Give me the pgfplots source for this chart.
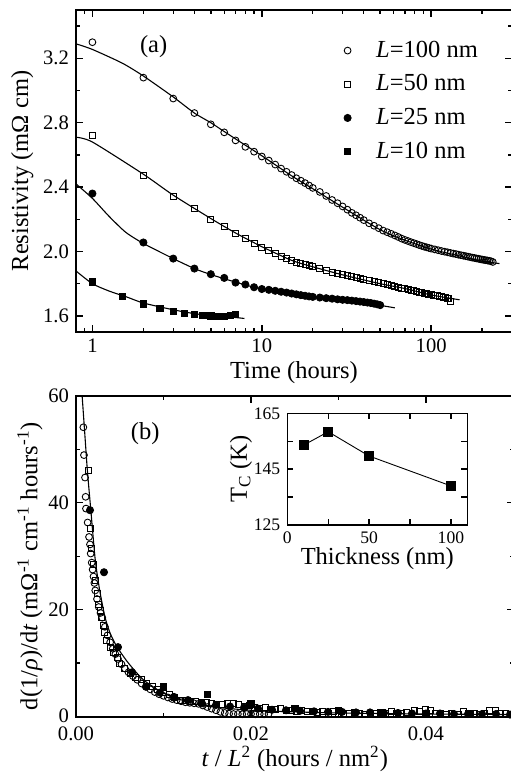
\documentclass[border=0pt]{standalone}
\usepackage{fontspec}
\setmainfont{Liberation Serif}
\usepackage{pgfplots}
\pgfplotsset{compat=1.18}

\pgfplotsset{
  panel/.style={
    scale only axis,
    anchor=north west,
    axis line style={line width=0.9pt},
    tick style={line width=0.7pt, black},
    major tick length=3.5pt,
    minor tick length=2pt,
    tick label style={font=\fontsize{10.3}{12}\selectfont},
    label style={font=\fontsize{12.25}{14}\selectfont},
    scaled ticks=false,
    /pgf/number format/assume math mode=true,
  },
  fit/.style={black, line width=0.55pt, no marks, smooth, tension=0.4},
  oc/.style={only marks, mark=o, mark size=1.7pt, mark options={line width=0.45pt, black}},
  os/.style={only marks, mark=square, mark size=1.5pt, mark options={line width=0.45pt, black}},
  fc/.style={only marks, mark=*, mark size=1.8pt, black},
  fs/.style={only marks, mark=square*, mark size=1.6pt, black},
}

\begin{document}
\begin{tikzpicture}
\useasboundingbox (0,0) rectangle (255pt,-388pt);

% ---- (a) resistivity vs time
\begin{axis}[panel,
  at={(38pt,-5pt)}, width=218pt, height=161pt,
  xmode=log, xmin=0.8, xmax=300, ymin=1.5, ymax=3.5,
  xtick={1,10,100}, xticklabels={1,10,100},
  minor xtick={0.8,0.9,2,3,4,5,6,7,8,9,20,30,40,50,60,70,80,90,200,300},
  ytick={1.6,2.0,2.4,2.8,3.2}, yticklabels={1.6,2.0,2.4,2.8,3.2},
  minor ytick={1.8,2.2,2.6,3.0,3.4},
  xlabel={Time (hours)}, ylabel={Resistivity (mΩ cm)},
  xlabel style={yshift=2.5pt}, ylabel style={yshift=-2pt},
  legend style={draw=none, fill=none, at={(0.6,0.93)}, anchor=north west,
    font=\fontsize{12.25}{14}\selectfont, row sep=3.2pt, column sep=10.5pt},
  legend cell align=left,
]
\addplot[oc] coordinates {
(1,3.30)(2,3.08)(3,2.95)(4,2.86)(5,2.79)(6,2.74)(7,2.69)(8,2.65)(9,2.62)(10,2.59)
(11,2.565)(12,2.54)(13,2.515)(14,2.495)(15,2.475)(16,2.455)(17,2.44)(18,2.425)(19,2.41)(20,2.395)
(22,2.37)(24,2.345)(26,2.32)(28,2.30)(30,2.28)(32,2.26)(34,2.24)(36,2.225)(38,2.21)(40,2.195)
(43,2.175)(46,2.16)(49,2.145)(52,2.13)(55,2.12)(58,2.11)(61,2.10)(64,2.09)(67,2.08)(70,2.072)
(73,2.065)(76,2.058)(79,2.052)(82,2.046)(85,2.04)(88,2.035)(91,2.03)(94,2.026)(97,2.022)(100,2.018)
(105,2.013)(110,2.008)(115,2.003)(120,1.999)(125,1.995)(130,1.991)(135,1.987)(140,1.984)(145,1.98)
(150,1.977)(155,1.974)(160,1.971)(165,1.968)(170,1.965)(175,1.962)(180,1.96)(185,1.957)(190,1.955)
(195,1.952)(200,1.95)(205,1.948)(210,1.946)(215,1.944)(220,1.942)(225,1.94)(231,1.935)};
\addlegendentry{\textit{L}=100 nm}
\addplot[os] coordinates {
(1,2.72)(2,2.474)(3,2.345)(4,2.267)(5,2.20)(6,2.153)(7,2.112)(8,2.078)(9,2.053)(10,2.028)
(11,2.005)(12,1.988)(13,1.972)(14,1.958)(15,1.946)(16,1.935)(17,1.926)(18,1.918)(19,1.911)(20,1.905)
(22,1.893)(24,1.882)(26,1.872)(28,1.863)(30,1.856)(32,1.849)(34,1.842)(36,1.836)(38,1.83)(40,1.825)
(43,1.818)(46,1.811)(49,1.805)(52,1.799)(55,1.793)(58,1.788)(61,1.783)(64,1.778)(67,1.773)(70,1.768)
(73,1.764)(76,1.76)(79,1.756)(82,1.752)(85,1.748)(88,1.745)(91,1.742)(94,1.739)(97,1.736)(100,1.733)
(103,1.73)(106,1.727)(109,1.724)(112,1.721)(115,1.718)(118,1.715)(121,1.712)(124,1.709)(127,1.706)(130,1.69)};
\addlegendentry{\textit{L}=50 nm}
\addplot[fc] coordinates {
(1,2.36)(2,2.056)(3,1.956)(4,1.894)(5,1.859)(6,1.836)(7,1.807)(8,1.795)(9,1.778)(10,1.767)
(11,1.762)(12,1.756)(13,1.75)(14,1.745)(15,1.739)(16,1.734)(17,1.729)(18,1.725)(19,1.721)(20,1.718)
(22,1.714)(24,1.71)(26,1.707)(28,1.703)(30,1.70)(32,1.698)(34,1.695)(36,1.692)(38,1.689)(40,1.686)
(42,1.683)(44,1.68)(46,1.676)(48,1.672)(50,1.667)};
\addlegendentry{\textit{L}=25 nm}
\addplot[fs] coordinates {
(1,1.81)(1.5,1.722)(2,1.674)(2.5,1.645)(3,1.628)(3.5,1.614)(4,1.608)(4.5,1.604)(5,1.60)
(5.5,1.598)(6,1.598)(6.5,1.602)(7,1.61)};
\addlegendentry{\textit{L}=10 nm}
% fits
\addplot[fit, forget plot] coordinates {
(0.8,3.29)(1,3.255)(1.5,3.17)(2,3.09)(3,2.96)(4,2.86)(5,2.80)(6,2.745)(8,2.66)(10,2.595)
(15,2.47)(20,2.39)(30,2.275)(50,2.135)(70,2.07)(100,2.015)(150,1.97)(200,1.94)(253,1.925)};
\addplot[fit, forget plot] coordinates {
(0.8,2.71)(1,2.68)(2,2.48)(3,2.35)(5,2.205)(7,2.115)(10,2.03)(15,1.945)(20,1.905)
(30,1.855)(50,1.80)(70,1.77)(100,1.73)(147,1.70)};
\addplot[fit, forget plot] coordinates {
(0.8,2.42)(1,2.33)(1.25,2.22)(1.57,2.12)(2,2.05)(3,1.956)(4,1.894)(5,1.857)(7,1.81)
(10,1.767)(20,1.715)(30,1.695)(50,1.665)(61,1.65)};
\addplot[fit, forget plot] coordinates {
(0.8,1.879)(1,1.80)(1.25,1.755)(1.6,1.717)(2,1.68)(3,1.638)(4,1.614)(5,1.603)(6,1.596)(7,1.59)(7.9,1.584)};
\node[font=\fontsize{12.25}{14}\selectfont] at (axis cs:2.3,3.27) {(a)};
\end{axis}

% ---- (b) derivative vs scaled time
\begin{axis}[panel,
  at={(38pt,-197.85pt)}, width=218.75pt, height=160.5pt,
  xmin=0, xmax=0.05, ymin=0, ymax=60,
  xtick={0,0.02,0.04}, xticklabels={0.00,0.02,0.04},
  minor xtick={0.01,0.03,0.05},
  ytick={0,20,40,60}, yticklabels={\raisebox{1.5pt}{0},20,40,60},
  minor ytick={10,30,50},
  xticklabel style={yshift=-1.5pt},
  xlabel={\textit{t} / \textit{L}\textsuperscript{2} (hours / nm\textsuperscript{2})},
  ylabel={d(1/\textit{ρ})/d\textit{t} (mΩ\textsuperscript{-1} cm\textsuperscript{-1} hours\textsuperscript{-1})},
  xlabel style={yshift=4pt}, ylabel style={yshift=-4pt, xshift=-5pt},
  clip=true,
]
\addplot[oc] coordinates {
(0.00084,54.1)(0.00091,48.9)(0.00103,44.7)(0.0011,41.1)(0.00114,38.9)(0.00133,36.3)(0.00149,33.6)
(0.0016,32.2)(0.00168,30.5)(0.0018,28.8)(0.0019,27.5)(0.002,26.2)(0.0021,25.0)(0.0022,23.6)
(0.0024,22.0)(0.0026,20.5)(0.0028,19.4)(0.003,18.5)(0.0033,16.8)(0.0036,15.2)(0.0039,13.9)
(0.0042,12.7)(0.0045,11.7)(0.0048,10.8)(0.0052,9.8)(0.0056,9.0)(0.006,8.3)(0.0065,7.6)(0.007,6.9)
(0.0075,6.2)(0.008,5.6)(0.0085,5.1)(0.009,4.6)(0.0095,4.2)(0.01,3.9)(0.0105,3.6)(0.011,3.3)
(0.0115,3.1)(0.012,2.9)(0.0125,2.7)(0.013,2.6)(0.0135,2.5)(0.014,2.4)(0.0145,2.1)(0.015,1.8)
(0.0155,1.5)(0.016,1.2)(0.0165,0.9)(0.017,0.7)(0.0175,0.55)(0.018,0.5)(0.0185,0.5)(0.019,0.45)
(0.0195,0.5)(0.02,0.5)(0.0205,0.45)(0.021,0.5)(0.0215,0.45)(0.022,0.5)};
\addplot[os] coordinates {
(0.0014,46.1)(0.0016,35.2)(0.0018,31.5)(0.002,28.4)(0.0022,25.5)(0.0024,23)(0.0026,21)(0.00274,19.9)
(0.0029,18.5)(0.0031,17.1)(0.0033,15.7)(0.0035,14.3)(0.0039,13.0)(0.0043,12.1)(0.0047,11)(0.005,10)
(0.0055,9)(0.0062,8.1)(0.0068,7.4)(0.0075,6.9)(0.0081,6.2)(0.0087,5.6)(0.0093,5.0)(0.0100,4.6)
(0.0107,4.1)(0.0113,3.6)(0.0119,3.1)(0.0125,3.0)(0.0131,2.9)(0.0137,2.8)(0.0143,2.6)(0.0149,2.7)
(0.0155,2.4)(0.0161,2.3)(0.0167,2.2)(0.0173,2.4)(0.018,2.5)(0.0186,2.3)(0.0192,2.0)(0.0198,2.1)
(0.0204,1.8)(0.021,1.6)(0.0216,1.7)(0.0222,1.4)(0.0228,1.3)(0.0234,1.5)(0.024,1.2)(0.0246,1.1)
(0.0252,1.0)(0.0258,1.1)(0.0264,0.9)(0.027,0.9)(0.0276,0.8)(0.0282,1.0)(0.0288,0.7)(0.0294,0.9)
(0.03,0.6)(0.0306,0.7)(0.0312,0.6)(0.0318,0.8)(0.0324,0.6)(0.033,0.5)(0.0336,0.7)(0.0342,0.6)
(0.0348,0.8)(0.0354,0.7)(0.036,0.9)(0.0366,0.6)(0.0372,0.7)(0.0378,0.8)(0.0387,1.25)(0.0393,1.0)
(0.0399,1.4)(0.0405,1.1)(0.0411,0.7)(0.0417,0.6)(0.0423,0.5)(0.0429,0.6)(0.0437,0.5)(0.0443,0.9)
(0.0449,0.7)(0.0455,0.6)(0.0461,0.5)(0.0467,0.6)(0.0473,1.1)(0.0479,1.2)(0.0485,0.7)(0.0491,0.6)
(0.0497,0.5)(0.0503,0.6)};
\addplot[fc] coordinates {
(0.0016,38.6)(0.0032,27.0)(0.0048,13.0)(0.0064,8.3)(0.008,5.6)(0.0096,4.5)(0.0112,3.7)(0.0128,3.1)
(0.0144,2.5)(0.016,2.2)(0.0176,1.9)(0.0192,1.7)(0.0208,1.5)(0.0224,1.3)(0.024,1.2)(0.0256,1.1)
(0.0272,1.0)(0.0288,0.9)(0.0304,0.9)(0.032,0.8)(0.0336,0.8)(0.0352,0.7)(0.0368,0.7)(0.0384,0.6)
(0.04,0.6)(0.0416,0.6)(0.0432,0.5)(0.0448,0.5)(0.0464,0.5)(0.048,0.5)(0.0496,0.4)};
\addplot[fs] coordinates {
(0.01,5.6)(0.015,4.2)(0.02,2.4)(0.025,1.6)(0.03,1.2)(0.035,0.8)(0.04,0.6)(0.045,0.5)(0.05,0.4)};
\addplot[fit] coordinates {
(0.0007,60)(0.001,53)(0.0013,46)(0.0017,38.5)(0.0022,29.3)(0.0027,23.7)(0.0033,18.7)(0.0039,15.6)
(0.0047,13.0)(0.006,10.0)(0.0077,6.9)(0.01,4.4)(0.0127,2.8)(0.0152,1.9)(0.02,1.2)(0.025,0.9)
(0.03,0.7)(0.04,0.5)(0.05,0.4)};
\node[font=\fontsize{12.25}{14}\selectfont] at (axis cs:0.0079,53) {(b)};
\end{axis}

% ---- inset: Tc vs thickness
\begin{axis}[panel,
  at={(143.65pt,-206.65pt)}, width=90pt, height=55.85pt,
  xmin=0, xmax=110, ymin=125, ymax=165,
  xtick={0,50,100}, xticklabels={0,50,100}, minor xtick={25,75},
  ytick={125,145,165}, yticklabels={125,145,165}, minor ytick={135,155},
  tick label style={font=\fontsize{8.8}{10}\selectfont},
  major tick length=3pt, minor tick length=3pt,
  xlabel={Thickness (nm)}, ylabel={T\textsubscript{C} (K)},
  xlabel style={yshift=5pt}, ylabel style={yshift=-6pt},
  axis line style={line width=0.8pt},
]
\addplot[black, line width=0.45pt, mark=square*, mark size=2.3pt] coordinates {
(10,153.6)(25,158.4)(50,149.7)(100,139)};
\end{axis}
\end{tikzpicture}
\end{document}
